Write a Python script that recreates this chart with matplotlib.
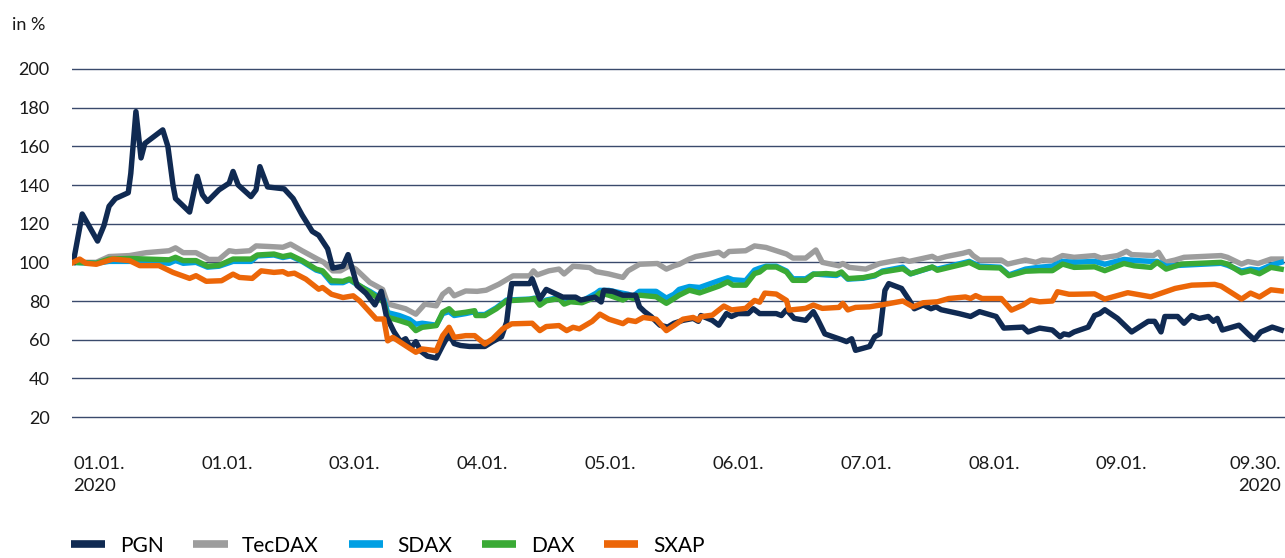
import matplotlib
matplotlib.use("Agg")
import matplotlib.pyplot as plt
import matplotlib.transforms as mtransforms

plt.rcParams['font.family'] = ['Lato', 'DejaVu Sans']

# x in months since 01.01.2020
pgn_x = [0.0, 0.07, 0.19, 0.24, 0.28, 0.33, 0.43, 0.45, 0.49, 0.53, 0.56, 0.70, 0.74, 0.78, 0.80,
         0.91, 0.97, 1.01, 1.05, 1.14, 1.22, 1.25, 1.29, 1.39, 1.43, 1.46, 1.52, 1.65, 1.72, 1.79,
         1.87, 1.92, 1.99, 2.03, 2.11, 2.15, 2.19, 2.22, 2.29, 2.36, 2.41, 2.45, 2.51, 2.56, 2.60,
         2.64, 2.68, 2.72, 2.77, 2.84, 2.89, 2.94, 2.98, 3.03, 3.10, 3.22, 3.28, 3.35, 3.39, 3.41,
         3.43, 3.57, 3.59, 3.65, 3.70, 3.83, 3.93, 3.97, 4.08, 4.13, 4.15, 4.22, 4.30, 4.40, 4.43,
         4.47, 4.52, 4.59, 4.65, 4.70, 4.77, 4.85, 4.89, 4.91, 5.00, 5.05, 5.11, 5.15, 5.20, 5.28,
         5.32, 5.37, 5.50, 5.54, 5.58, 5.64, 5.73, 5.79, 5.82, 5.88, 6.01, 6.05, 6.09, 6.12, 6.23,
         6.27, 6.31, 6.35, 6.38, 6.48, 6.54, 6.58, 6.65, 6.71, 6.75, 6.79, 6.93, 7.02, 7.09, 7.22,
         7.28, 7.43, 7.47, 7.56, 7.66, 7.72, 7.75, 7.79, 7.83, 7.94, 7.99, 8.03, 8.07, 8.17, 8.28,
         8.41, 8.46, 8.51, 8.54, 8.64, 8.69, 8.75, 8.81, 8.88, 8.92, 8.95, 8.99, 9.12, 9.19, 9.24,
         9.29, 9.38, 9.45]
pgn = [100, 125, 111, 119, 129, 133, 136, 146, 178, 154, 161.5, 168.5, 160, 140, 133,
       126, 144.5, 135, 131.5, 137.5, 141, 147, 140, 134, 137.5, 149.5, 139, 138, 133, 124.5,
       116, 114, 107, 97, 98, 104, 95, 88, 84, 78, 85, 72, 64, 59, 60.5,
       55.5, 59, 54, 51.5, 50.5, 57, 63, 58, 57, 56.5, 56.5, 59, 61.5, 69, 80,
       89, 89, 91.5, 81, 86, 82, 82, 80.5, 82, 79.5, 85.5, 85, 83, 83, 77,
       74.5, 72, 67.5, 66.5, 68.5, 70, 71, 69.5, 72.5, 70, 67.5, 73.5, 72, 73.5, 73.5,
       76, 73.5, 73.5, 72.5, 75.5, 71, 70, 74.5, 71, 63, 60, 59, 60.5, 54.5, 56.5,
       61.5, 63, 85.5, 89, 86.5, 80.5, 76, 78, 76, 77, 75.5, 73.5, 72, 74.5, 72,
       66, 66.5, 64, 66, 65, 61.5, 63, 62.5, 64, 66.5, 72.5, 73.5, 75.5, 71, 64,
       69.5, 69.5, 64, 72, 72, 68.5, 72.5, 71, 72, 69.5, 71, 65, 67.5, 63, 60,
       64, 66.5, 65]

tec_x = [0.0, 0.18, 0.28, 0.44, 0.57, 0.75, 0.80, 0.86, 0.96, 1.06, 1.14, 1.22, 1.27, 1.38, 1.43,
         1.53, 1.64, 1.70, 1.79, 1.91, 1.96, 2.03, 2.09, 2.16, 2.21, 2.32, 2.42, 2.46, 2.60, 2.68,
         2.75, 2.84, 2.89, 2.94, 2.98, 3.07, 3.16, 3.23, 3.33, 3.44, 3.57, 3.60, 3.63, 3.72, 3.80,
         3.84, 3.91, 4.04, 4.09, 4.19, 4.30, 4.34, 4.43, 4.57, 4.64, 4.70, 4.74, 4.82, 4.87, 5.05,
         5.09, 5.13, 5.26, 5.33, 5.42, 5.58, 5.63, 5.73, 5.81, 5.86, 5.99, 6.02, 6.07, 6.20, 6.31,
         6.49, 6.54, 6.72, 6.76, 6.83, 6.96, 7.01, 7.04, 7.09, 7.26, 7.31, 7.45, 7.53, 7.58, 7.66,
         7.74, 7.83, 7.99, 8.04, 8.17, 8.24, 8.28, 8.45, 8.49, 8.54, 8.62, 8.69, 8.98, 9.03, 9.14,
         9.19, 9.27, 9.37, 9.45]
tecdax = [100, 100, 103, 103.5, 105, 106, 107.5, 105, 105, 101.5, 101.5, 106, 105.5, 106, 108.5,
          108.2, 107.8, 109.4, 106, 101.7, 100, 95.6, 95.6, 98.2, 96.5, 89.6, 86, 78.5, 76, 73.2,
          78.4, 77.5, 83.5, 86, 82.7, 85.2, 85, 85.6, 88.7, 93, 93, 95.6, 93.5, 95.6, 96.5,
          94, 98, 97.3, 95.2, 94, 92.2, 95.6, 99, 99.4, 96.5, 98.2, 99, 101.7, 103, 105.2,
          103.4, 105.6, 106, 108.5, 107.7, 104.3, 102.2, 102.2, 106.4, 100, 98.2, 99.4, 97.4, 96.5, 99.4,
          101.6, 100.5, 103.1, 101.7, 103, 104.7, 105.6, 103.5, 101.2, 101.2, 99.1, 101.2, 100, 101.2, 100.9,
          103.5, 102.6, 103.5, 102.2, 103.5, 105.7, 104, 103.5, 105.2, 100, 101.2, 102.6, 103.5, 102.6, 99.1,
          100.4, 99.4, 101.7, 101.7]

dax_x = [0.0, 0.18, 0.28, 0.44, 0.57, 0.75, 0.80, 0.86, 0.96, 1.05, 1.14, 1.25, 1.39, 1.44, 1.57,
         1.64, 1.70, 1.79, 1.90, 1.95, 2.02, 2.11, 2.16, 2.22, 2.32, 2.43, 2.46, 2.55, 2.63, 2.68,
         2.73, 2.84, 2.89, 2.94, 2.98, 3.07, 3.14, 3.15, 3.22, 3.31, 3.39, 3.57, 3.61, 3.65, 3.70,
         3.80, 3.84, 3.89, 3.98, 4.09, 4.12, 4.19, 4.30, 4.34, 4.38, 4.43, 4.56, 4.64, 4.70, 4.74,
         4.82, 4.90, 5.05, 5.12, 5.16, 5.26, 5.33, 5.37, 5.42, 5.50, 5.58, 5.63, 5.73, 5.79, 5.89,
         5.97, 6.01, 6.06, 6.18, 6.27, 6.33, 6.49, 6.55, 6.72, 6.76, 6.98, 7.01, 7.09, 7.25, 7.32,
         7.45, 7.56, 7.66, 7.74, 7.83, 7.99, 8.07, 8.22, 8.30, 8.43, 8.48, 8.55, 8.67, 8.98, 9.03,
         9.14, 9.21, 9.28, 9.37, 9.45]
dax = [100, 99.5, 101.7, 102, 101.7, 101.3, 102.6, 100.9, 100.9, 98, 98.4, 101.7, 101.7, 103.8, 104.3,
       103, 103.8, 100.9, 96.5, 95.6, 90.5, 90.2, 91.4, 88.8, 84.5, 79.3, 71.6, 69.9, 68.2, 64.7,
       66.4, 67.3, 74.2, 76, 73.4, 74.2, 75, 72.5, 72.5, 76, 80.1, 80.8, 81.3, 77.8, 80.1,
       81.3, 78.4, 79.6, 79.1, 82.2, 84.2, 83, 80.5, 82.2, 81.3, 83, 82.2, 78.8, 81.3, 83,
       85.6, 84.2, 87.7, 89.9, 88.2, 88.2, 94.2, 95, 97.6, 97.6, 95, 90.7, 90.7, 93.8, 94.2,
       93.8, 95, 91.6, 92.1, 93.3, 95, 96.7, 94.1, 97.6, 95.9, 99.4, 100, 97.4, 97.1, 93.1,
       95.4, 95.7, 95.7, 99.1, 97.4, 97.7, 95.7, 99.4, 98.2, 97.4, 100, 96.5, 99.1, 100, 99.1,
       94.6, 95.7, 94.1, 97.4, 96.5]
sdax = [100, 99.5, 100.5, 100.5, 100.5, 99.5, 101, 99.5, 100, 97.5, 98, 100.5, 100.5, 103.3, 103.8,
        102.5, 103.3, 100.5, 96, 95, 89.5, 89.5, 91, 88.5, 85, 80.5, 74, 72.5, 70.5, 68,
        68.5, 67.5, 73.5, 74.5, 72.5, 73.5, 74.5, 73, 73, 76.5, 80.5, 81, 81.5, 78.5, 80.5,
        81.8, 79, 80.5, 80, 84, 85.5, 85.5, 84, 83.5, 82.5, 85, 85, 81.5, 83.5, 86,
        87.5, 87, 90.5, 92, 91, 90.5, 96, 97, 98, 98, 95.5, 91.5, 91.5, 94, 93.5,
        93.2, 94.5, 91.3, 91.8, 93, 95.5, 97.5, 94, 97.5, 96.5, 100, 100.5, 98, 97.5, 93.5,
        96.5, 97.5, 98, 100.5, 100, 100.5, 99, 101.5, 101, 100.5, 100.5, 98, 98.5, 99.5, 98.5,
        95.5, 96.5, 96, 98.5, 100]

sxap_x = [0.0, 0.05, 0.10, 0.18, 0.31, 0.44, 0.52, 0.67, 0.78, 0.91, 0.96, 1.04, 1.16, 1.25, 1.30,
          1.40, 1.47, 1.57, 1.64, 1.68, 1.73, 1.82, 1.92, 1.95, 2.02, 2.11, 2.19, 2.24, 2.37, 2.43,
          2.46, 2.50, 2.60, 2.68, 2.73, 2.84, 2.89, 2.94, 2.98, 3.07, 3.14, 3.22, 3.28, 3.36, 3.43,
          3.59, 3.65, 3.70, 3.80, 3.86, 3.91, 3.96, 4.06, 4.12, 4.19, 4.30, 4.34, 4.40, 4.46, 4.56,
          4.64, 4.70, 4.77, 4.85, 4.89, 4.91, 5.00, 5.09, 5.15, 5.26, 5.33, 5.37, 5.41, 5.50, 5.58,
          5.60, 5.73, 5.79, 5.86, 5.99, 6.02, 6.06, 6.12, 6.23, 6.36, 6.49, 6.57, 6.65, 6.76, 6.85,
          6.98, 7.02, 7.06, 7.11, 7.26, 7.34, 7.43, 7.49, 7.56, 7.66, 7.70, 7.79, 7.83, 7.99, 8.07,
          8.25, 8.43, 8.62, 8.75, 8.93, 8.98, 9.14, 9.21, 9.28, 9.37, 9.45]
sxap = [100, 101.7, 99.5, 99, 101.7, 100.9, 98.3, 98.3, 94.8, 91.7, 93.1, 90.2, 90.5, 93.9, 92.2,
        91.7, 95.6, 94.8, 95.2, 93.9, 94.4, 91.3, 86.1, 87, 83.5, 81.8, 82.7, 80.1, 70.7, 70.7,
        59.4, 61.2, 56.9, 53.5, 55.2, 54.3, 62.1, 66.4, 61.2, 62.1, 62.1, 57.8, 60.4, 65.6, 68.2,
        68.5, 64.7, 66.8, 67.3, 64.7, 66.4, 65.6, 69.5, 73.2, 70.6, 68.3, 70.1, 69.4, 71.5, 70.6,
        64.7, 67.3, 70.6, 71.5, 70.1, 71.9, 72.7, 77.4, 75.4, 76.2, 80.3, 79.4, 84.1, 83.6, 80.3,
        75.3, 76.2, 77.9, 76.2, 76.7, 78.8, 75.4, 76.7, 77, 78.4, 80, 77, 79.1, 79.6, 81.3,
        82.1, 81.3, 82.8, 81.3, 81.3, 75.3, 77.9, 80.5, 79.6, 80, 84.8, 83.5, 83.5, 83.7, 81,
        84.3, 82.2, 86.5, 88.2, 88.6, 87.7, 81, 84.1, 82.1, 85.8, 85.2]

month_pos = [0, 1, 2, 3, 4, 5, 6, 7, 8]
month_labels = ["01.01.\n2020", "01.01.", "03.01.", "04.01.", "05.01.", "06.01.", "07.01.", "08.01.", "09.01."]
last_label = "09.30.\n2020"
yticks = [20, 40, 60, 80, 100, 120, 140, 160, 180, 200]

c_pgn = "#102a52"
c_tec = "#9d9d9d"
c_sdax = "#009fe3"
c_dax = "#3aaa35"
c_sxap = "#ec6608"

fig = plt.figure(figsize=(12.85, 5.58), dpi=100)
ax = fig.add_axes([72 / 1285, 0.2457, 1 - 72 / 1285, 0.6376])

lw = 3.9
ax.plot(tec_x, tecdax, color=c_tec, lw=lw, label="TecDAX", zorder=2, solid_joinstyle="round")
ax.plot(dax_x, sdax, color=c_sdax, lw=lw, label="SDAX", zorder=3, solid_joinstyle="round")
ax.plot(dax_x, dax, color=c_dax, lw=lw, label="DAX", zorder=4, solid_joinstyle="round")
ax.plot(pgn_x, pgn, color=c_pgn, lw=lw, label="PGN", zorder=5, solid_joinstyle="round")
ax.plot(sxap_x, sxap, color=c_sxap, lw=lw, label="SXAP", zorder=6, solid_joinstyle="round")

ax.set_xlim(-0.01, 9.48)
ax.set_ylim(18, 202)
for v in yticks:
    ax.axhline(v, color="#3a4a6c", lw=1.0, zorder=1)

for s in ax.spines.values():
    s.set_visible(False)
ax.set_xticks([])
ax.set_yticks(yticks)
ax.set_yticklabels([str(v) for v in yticks])
ax.tick_params(axis="y", length=0, pad=16, labelsize=13, labelcolor="#1a1a1a")

trans = mtransforms.blended_transform_factory(ax.transData, ax.transAxes)
for p, lab in zip(month_pos, month_labels):
    ax.text(p, -0.098, lab, transform=trans, ha="left", va="top", fontsize=13.3,
            color="#1a1a1a", linespacing=1.45)
ax.text(pgn_x[-1], -0.098, last_label, transform=trans, ha="right", va="top", fontsize=13.3,
        color="#1a1a1a", linespacing=1.45, multialignment="right")

fig.text(12 / 1285, 1 - 25 / 558, "in %", ha="left", va="center", fontsize=13, color="#1a1a1a")

handles, labels = ax.get_legend_handles_labels()
order = ["PGN", "TecDAX", "SDAX", "DAX", "SXAP"]
hmap = dict(zip(labels, handles))
leg_handles = [plt.Line2D([], [], color=h.get_color(), lw=5.5, solid_capstyle="butt") for h in [hmap[o] for o in order]]
fig.legend(leg_handles, order, loc="center left", bbox_to_anchor=(71 / 1285, 0.022), ncol=5,
           frameon=False, fontsize=15, handlelength=1.65, handletextpad=0.7, columnspacing=1.42,
           borderaxespad=0, borderpad=0)

fig.savefig("out.png", dpi=100)
